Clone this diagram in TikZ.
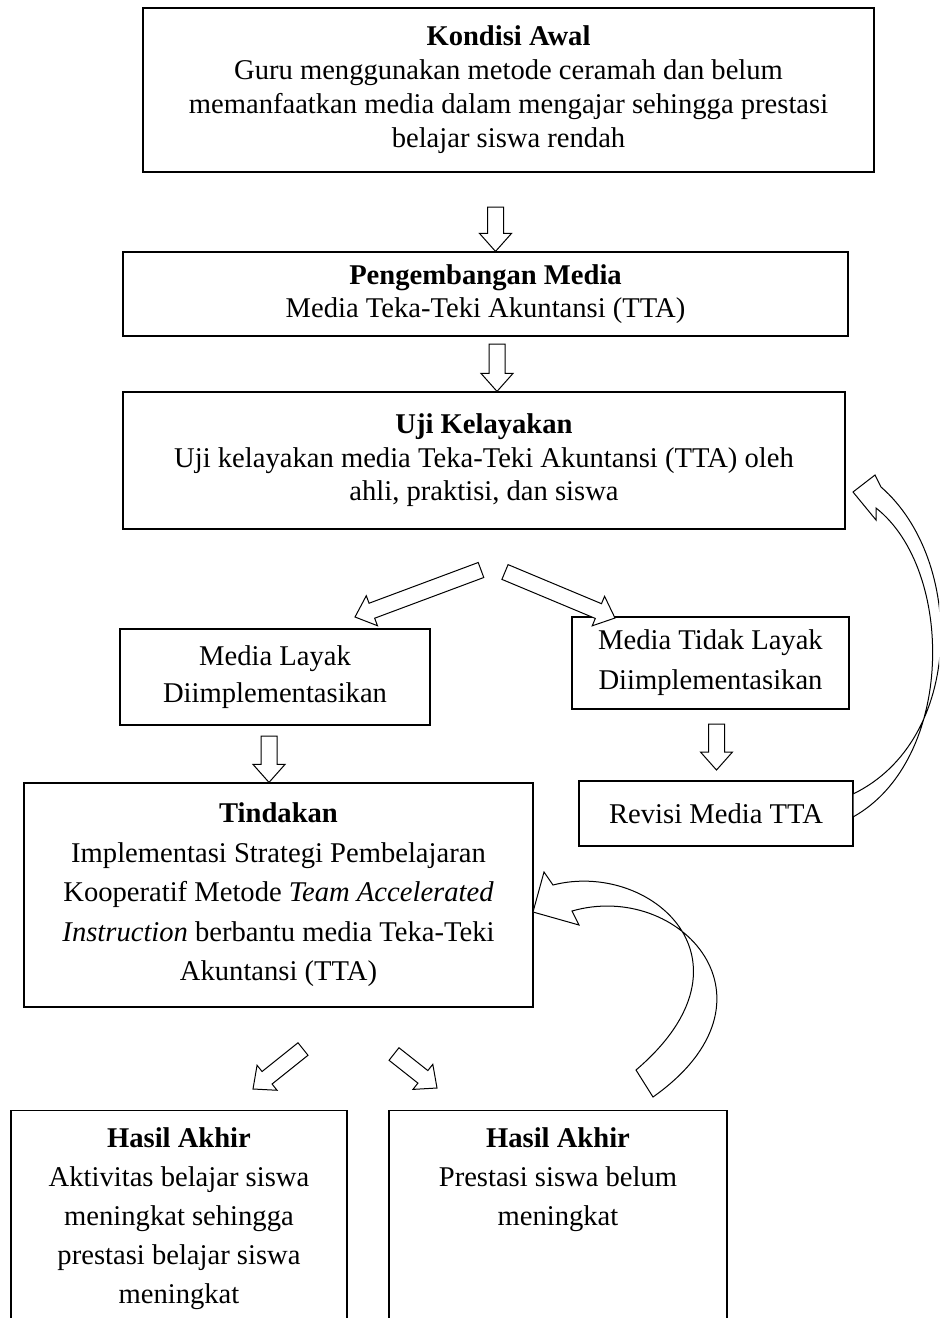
\documentclass[tikz,border=0pt]{standalone}
\usepackage{fontspec}
\setmainfont{Liberation Serif}
\usetikzlibrary{calc}

\tikzset{
  box/.style={draw, line width=0.6pt, align=center, inner sep=0pt},
  txt/.style={align=center, inner sep=0pt},
  blockarr/.style={draw, line width=0.5pt, fill=white},
}

% hollow block arrow from tail #1 to tip #2
\newcommand{\blockarrow}[2]{%
  \coordinate (ba-s) at #1;
  \coordinate (ba-e) at #2;
  \coordinate (ba-n) at ($(ba-e)!9pt!(ba-s)$);
  \draw[blockarr] ($(ba-s)!4pt!90:(ba-e)$) -- ($(ba-n)!4pt!90:(ba-e)$) -- ($(ba-n)!8pt!90:(ba-e)$)
    -- (ba-e) -- ($(ba-n)!8pt!-90:(ba-e)$) -- ($(ba-n)!4pt!-90:(ba-e)$) -- ($(ba-s)!4pt!-90:(ba-e)$) -- cycle;
}

\begin{document}
\begin{tikzpicture}[x=0.5pt, y=-0.5pt]
	\clip (0,0) rectangle (939,1318);

	\node[box, minimum width=365.5pt, minimum height=82pt, font=\fontsize{14.3}{17}\selectfont] (awal) at (508.5,90)
		{\textbf{Kondisi Awal}\\Guru menggunakan metode ceramah dan belum\\memanfaatkan media dalam mengajar sehingga prestasi\\belajar siswa rendah};
	\node[box, minimum width=362.5pt, minimum height=42pt, font=\fontsize{14.3}{16.5}\selectfont] (peng) at (485.5,294)
		{\textbf{Pengembangan Media}\\Media Teka-Teki Akuntansi (TTA)};
	\node[box, minimum width=361pt, minimum height=68.5pt, font=\fontsize{14.3}{16.75}\selectfont] (uji) at (484,460.5)
		{\textbf{Uji Kelayakan}\\Uji kelayakan media Teka-Teki Akuntansi (TTA) oleh\\ahli, praktisi, dan siswa};
	\node[box, minimum width=155pt, minimum height=48pt, font=\fontsize{14.3}{18.5}\selectfont] (layak) at (275,677)
		{Media Layak\\Diimplementasikan};
	\node[box, minimum width=138.5pt, minimum height=46pt, font=\fontsize{14.3}{20}\selectfont] (tidak) at (710.5,663)
		{Media Tidak Layak\\Diimplementasikan};
	\node[box, minimum width=137pt, minimum height=32.5pt, font=\fontsize{14.3}{17}\selectfont] (rev) at (716,813.5)
		{Revisi Media TTA};
	\node[box, minimum width=254.5pt, minimum height=112pt, font=\fontsize{14.3}{19.75}\selectfont] (tind) at (278.5,895)
		{\textbf{Tindakan}\\Implementasi Strategi Pembelajaran\\Kooperatif Metode \textit{Team Accelerated}\\\textit{Instruction} berbantu media Teka-Teki\\Akuntansi (TTA)};

	\node[box, minimum width=168pt, minimum height=120pt, anchor=north] (hasilA) at (179,1110) {};
	\node[box, minimum width=169pt, minimum height=120pt, anchor=north] (hasilB) at (558,1110) {};
	\node[txt, anchor=north, font=\fontsize{14.3}{19.5}\selectfont] (hasilAtxt) at (179,1127)
		{\textbf{Hasil Akhir}\\Aktivitas belajar siswa\\meningkat sehingga\\prestasi belajar siswa\\meningkat};
	\node[txt, anchor=north, font=\fontsize{14.3}{19.5}\selectfont] (hasilBtxt) at (558,1127)
		{\textbf{Hasil Akhir}\\Prestasi siswa belum\\meningkat};

	% straight arrows
	\coordinate (a1) at (495.5,207);
	\coordinate (a2) at (497,344);
	\coordinate (a3) at (269,736);
	\coordinate (a4) at (716.5,724);
	\blockarrow{(a1)}{(a1 |- peng.north)}
	\blockarrow{(a2)}{(a2 |- uji.north)}
	\blockarrow{(a3)}{(a3 |- tind.north)}
	\blockarrow{(a4)}{(716.5,770)}

	\coordinate (d1) at (481,570);
	\coordinate (d2) at (505,572);
	\coordinate (d3) at (303,1049);
	\coordinate (d4) at (394,1054);
	\blockarrow{(d1)}{(355,617)}
	\blockarrow{(d2)}{(615,618)}
	\blockarrow{(d3)}{(253,1089)}
	\blockarrow{(d4)}{(437,1088)}

	% curved arrows back
	\draw[blockarr] (853,492) -- (875,475) -- (881,487) .. controls (965,560) and (965,740) .. (853,794)
		-- (853,817) .. controls (955,760) and (955,570) .. (876,508) -- (876,520) -- cycle;
	\draw[blockarr] (533,912) -- (544,872) -- (553,885) .. controls (650,860) and (765,960) .. (636,1070)
		-- (653,1097) .. controls (790,1000) and (680,880) .. (572,911) -- (579,925) -- cycle;
\end{tikzpicture}
\end{document}
